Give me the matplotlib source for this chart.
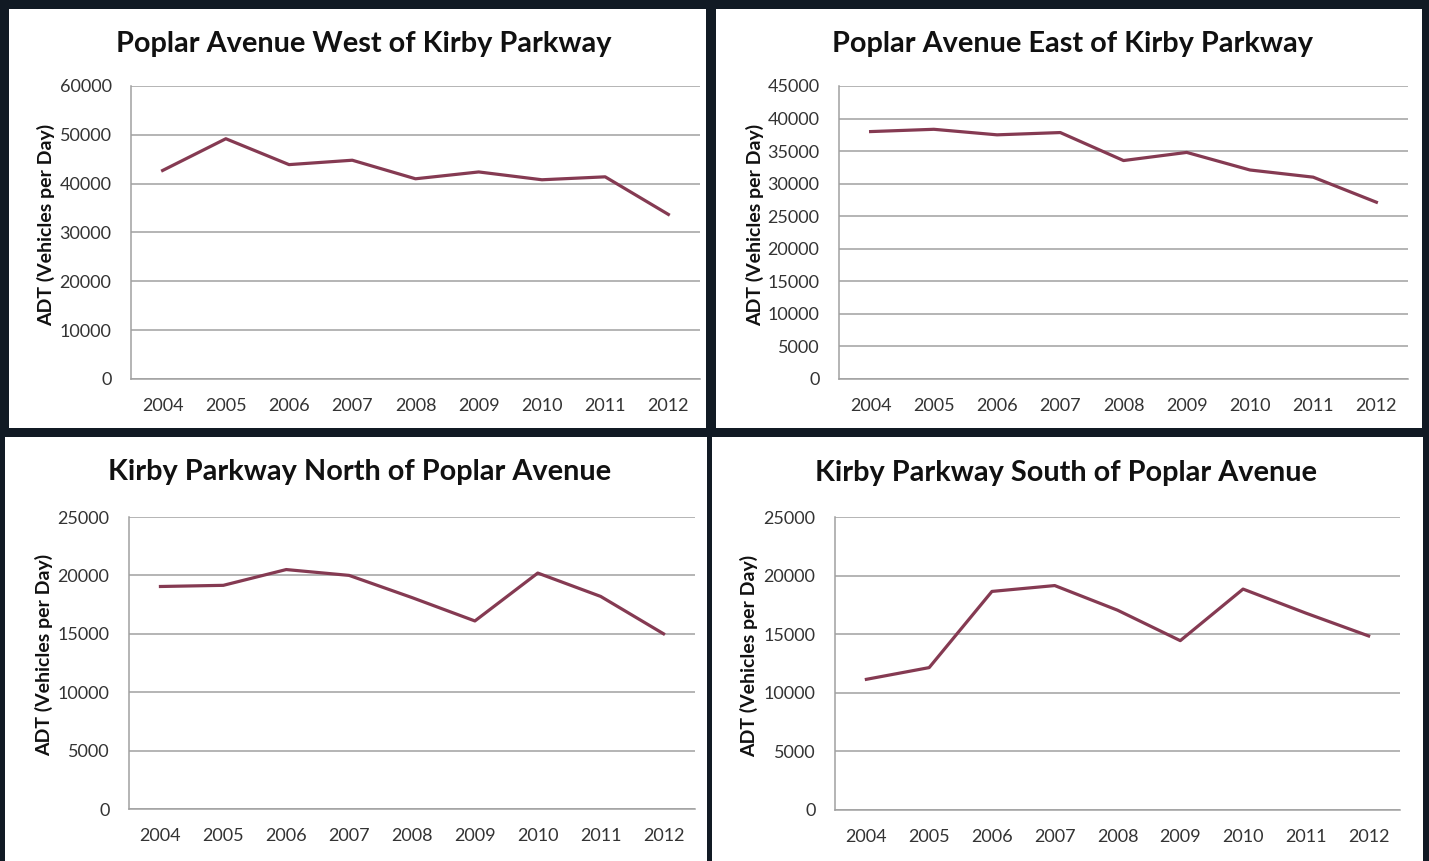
import matplotlib
matplotlib.use("Agg")
import matplotlib.pyplot as plt
from matplotlib.patches import Rectangle

plt.rcParams['font.family'] = ['Lato', 'DejaVu Sans']

years = ['2004', '2005', '2006', '2007', '2008', '2009', '2010', '2011', '2012']

poplar_west = [42700, 49200, 43900, 44800, 41000, 42400, 40800, 41400, 33700]
poplar_east = [38000, 38350, 37500, 37850, 33550, 34800, 32100, 31000, 27150]
kirby_north = [19050, 19150, 20500, 20000, 18100, 16100, 20200, 18200, 15000]
kirby_south = [11150, 12150, 18650, 19150, 17050, 14450, 18850, 16800, 14850]

titles = ['Poplar Avenue West of Kirby Parkway',
          'Poplar Avenue East of Kirby Parkway',
          'Kirby Parkway North of Poplar Avenue',
          'Kirby Parkway South of Poplar Avenue']
series = [poplar_west, poplar_east, kirby_north, kirby_south]
y_max = [60000, 45000, 25000, 25000]
y_step = [10000, 5000, 5000, 5000]

W, H = 1429, 861
fig = plt.figure(figsize=(W / 100, H / 100), dpi=100, facecolor='#111a24')

def fx(x):
    return x / W

def fy(y):
    return 1 - y / H

# white panel backgrounds (left, top, right, bottom in pixels)
panels = [(9, 9, 706, 428), (716, 9, 1422, 428), (5, 437, 707, 861), (712, 437, 1423, 861)]
for l, t, r, b in panels:
    fig.add_artist(Rectangle((fx(l), fy(b)), fx(r - l), (b - t) / H,
                             transform=fig.transFigure, facecolor='white',
                             edgecolor='none', zorder=0))

# plot areas
areas = [(131, 86, 700, 379), (839, 86, 1408, 379), (129, 517, 695, 809), (835, 517, 1400, 810)]
title_pos = [(364, 44), (1072, 44), (360, 472), (1066, 473)]
ylabel_x = [46, 755, 44, 749]

for i in range(4):
    l, t, r, b = areas[i]
    ax = fig.add_axes([fx(l), fy(b), fx(r - l), (b - t) / H])
    ax.set_facecolor('white')
    ax.plot(range(len(years)), series[i], color='#853a52', lw=2.3, solid_joinstyle='round')
    ax.set_xlim(-0.5, len(years) - 0.5)
    ax.set_ylim(0, y_max[i])
    ax.set_yticks(range(0, y_max[i] + 1, y_step[i]))
    ax.set_xticks(range(len(years)))
    ax.set_xticklabels(years)
    ax.grid(axis='y', color='#a0a0a0', lw=1.1)
    ax.set_axisbelow(True)
    for s in ['top', 'right']:
        ax.spines[s].set_visible(False)
    for s in ['left', 'bottom']:
        ax.spines[s].set_color('#a0a0a0')
        ax.spines[s].set_linewidth(1.1)
    ax.tick_params(length=0, labelsize=13, colors='#333333')
    ax.tick_params(axis='y', pad=14)
    ax.tick_params(axis='x', pad=14)

    fig.text(fx(title_pos[i][0]), fy(title_pos[i][1]), titles[i], ha='center', va='center',
             fontsize=20.8, fontweight='bold', color='#111111')
    fig.text(fx(ylabel_x[i]), fy((t + b) / 2 - 8), 'ADT (Vehicles per Day)', rotation=90,
             ha='center', va='center', fontsize=14, fontweight='bold', color='#111111')

fig.savefig('out.png', dpi=100, facecolor=fig.get_facecolor())
